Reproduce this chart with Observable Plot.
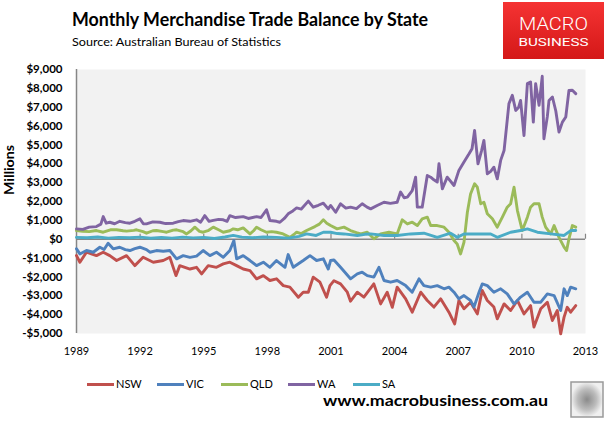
<!DOCTYPE html>
<html><head><meta charset="utf-8">
<script src="https://cdn.jsdelivr.net/npm/d3@7"></script>
<script src="https://cdn.jsdelivr.net/npm/@observablehq/plot@0.6"></script>
<style>
body{margin:0;background:#fff;}
#wrap{position:relative;width:608px;height:422px;overflow:hidden;font-family:Lato,"Open Sans",sans-serif;}
#chart{position:absolute;left:0;top:60px;}
#ov{position:absolute;left:0;top:0;pointer-events:none;}
</style></head><body><div id="wrap"><div id="chart"></div><svg id="ov" width="608" height="422"></svg></div>
<script>
const title = "Monthly Merchandise Trade Balance by State";
const subtitle = "Source:  Australian Bureau of Statistics";
const yLabel = "Millions";
const site = "www.macrobusiness.com.au";
const states = ["NSW", "VIC", "QLD", "WA", "SA"];
const stateColors = ["#C0504D", "#4F81BD", "#9BBB59", "#8064A2", "#4BACC6"];
const yearTicks = [1989, 1992, 1995, 1998, 2001, 2004, 2007, 2010, 2013];
const valueTicks = [-5000,-4000,-3000,-2000,-1000,0,1000,2000,3000,4000,5000,6000,7000,8000,9000];

const waYears = [1989.00,1989.30,1989.60,1989.94,1990.15,1990.26,1990.40,1990.57,1990.80,1991.04,1991.30,1991.52,1991.75,1991.99,1992.15,1992.30,1992.60,1992.93,1993.20,1993.56,1993.80,1994.03,1994.35,1994.66,1994.85,1995.05,1995.25,1995.45,1995.70,1995.92,1996.10,1996.23,1996.50,1996.86,1997.10,1997.49,1997.70,1997.96,1998.12,1998.43,1998.59,1998.80,1998.98,1999.20,1999.38,1999.60,1999.93,2000.16,2000.40,2000.64,2000.87,2000.98,2001.22,2001.45,2001.70,2001.92,2002.20,2002.47,2002.70,2002.87,2003.20,2003.50,2003.80,2004.12,2004.28,2004.45,2004.60,2004.83,2004.99,2005.07,2005.30,2005.54,2005.70,2005.85,2006.01,2006.09,2006.25,2006.48,2006.80,2007.03,2007.27,2007.51,2007.65,2007.77,2007.93,2008.10,2008.21,2008.37,2008.53,2008.68,2008.84,2009.00,2009.16,2009.39,2009.55,2009.71,2009.85,2009.94,2010.10,2010.26,2010.41,2010.54,2010.65,2010.81,2010.96,2011.04,2011.20,2011.28,2011.44,2011.60,2011.75,2011.91,2012.07,2012.22,2012.38,2012.54];
const waValues = [550,520,640,670,800,1200,850,900,820,950,880,850,950,1080,820,815,920,900,830,850,930,990,950,1030,900,1250,950,1000,1050,1030,950,1250,1150,1200,1100,1200,1150,1560,990,950,900,1100,1345,1500,1660,1600,2020,1700,1800,1910,1610,1790,1430,1880,1650,1700,1620,1880,1700,1610,1800,1960,1900,1960,2500,2200,2230,2580,3290,1700,1700,3380,3290,3150,3030,4000,2670,3290,2850,3650,4090,4530,4800,5770,4000,4700,5240,3470,3600,3820,3200,4180,4700,7190,7630,6830,7000,7360,5500,8250,8340,6210,8250,7100,8640,5330,6500,7360,7540,6800,5680,6210,6480,7890,7900,7720];

const qldYears = [1989.00,1989.30,1989.60,1989.94,1990.26,1990.60,1990.89,1991.20,1991.36,1991.70,1991.83,1992.14,1992.30,1992.60,1992.77,1993.09,1993.25,1993.56,1993.72,1994.03,1994.19,1994.40,1994.58,1994.80,1994.97,1995.20,1995.45,1995.70,1995.92,1996.23,1996.39,1996.60,1996.86,1997.18,1997.35,1997.49,1997.70,1997.96,1998.20,1998.43,1998.70,1999.06,1999.25,1999.38,1999.60,1999.85,2000.24,2000.45,2000.64,2000.80,2000.98,2001.29,2001.61,2001.92,2002.20,2002.40,2002.71,2003.02,2003.34,2003.73,2004.12,2004.36,2004.60,2004.83,2005.07,2005.30,2005.54,2005.70,2006.01,2006.33,2006.56,2006.80,2006.95,2007.11,2007.27,2007.43,2007.58,2007.77,2007.90,2008.06,2008.21,2008.37,2008.61,2008.84,2009.08,2009.31,2009.47,2009.63,2009.79,2010.02,2010.26,2010.41,2010.57,2010.81,2010.96,2011.12,2011.36,2011.52,2011.75,2011.99,2012.11,2012.22,2012.38,2012.54];
const qldValues = [460,420,400,460,370,500,500,450,430,470,500,400,320,450,460,400,370,480,500,400,280,450,640,420,370,450,640,500,370,450,550,500,600,280,450,640,500,370,400,370,300,100,250,370,300,460,670,800,1030,850,725,550,640,460,350,280,370,20,280,370,280,1030,810,900,725,1080,1170,725,725,640,370,-70,-250,-780,-160,1430,2400,2940,2760,1880,1960,1350,1080,640,1170,1700,1880,2760,1520,460,1170,1700,1880,1880,1170,640,280,725,100,-420,-600,20,725,640];

const saYears = [1989.00,1989.50,1990.00,1990.50,1991.00,1991.50,1992.00,1992.50,1993.00,1993.50,1994.00,1994.50,1995.00,1995.50,1996.00,1996.39,1996.80,1997.30,1997.80,1998.43,1999.00,1999.50,1999.85,2000.30,2000.64,2000.98,2001.30,2001.61,2002.24,2002.60,2002.87,2003.50,2004.12,2004.75,2005.38,2006.01,2006.64,2006.95,2007.27,2007.90,2008.53,2008.84,2009.47,2009.94,2010.26,2010.73,2011.36,2011.99,2012.30,2012.54];
const saValues = [100,80,120,60,100,80,110,50,90,60,110,70,100,40,120,200,110,80,120,100,60,150,280,200,370,370,300,280,200,260,280,200,200,280,320,100,320,100,280,280,280,100,370,460,550,370,280,200,460,460];

const vicYears = [1989.00,1989.16,1989.47,1989.79,1990.10,1990.30,1990.49,1990.73,1991.04,1991.30,1991.52,1991.75,1991.99,1992.30,1992.46,1992.77,1993.09,1993.40,1993.72,1994.03,1994.35,1994.66,1994.97,1995.29,1995.60,1995.92,1996.23,1996.42,1996.55,1996.86,1997.18,1997.49,1997.81,1998.12,1998.43,1998.83,1998.98,1999.22,1999.69,2000.01,2000.32,2000.64,2000.87,2000.98,2001.14,2001.45,2001.92,2002.24,2002.47,2002.71,2003.02,2003.26,2003.50,2003.81,2004.12,2004.52,2004.83,2005.15,2005.38,2005.70,2006.01,2006.33,2006.56,2006.80,2007.03,2007.27,2007.58,2007.74,2007.98,2008.13,2008.37,2008.68,2009.00,2009.31,2009.63,2009.94,2010.26,2010.57,2010.89,2011.20,2011.52,2011.83,2011.99,2012.14,2012.30,2012.54];
const vicValues = [-510,-780,-600,-690,-425,-550,-210,-510,-425,-550,-600,-500,-425,-550,-690,-600,-640,-600,-1040,-870,-960,-900,-600,-870,-690,-960,-600,-70,-1040,-870,-1130,-1400,-1220,-1490,-1130,-1490,-815,-1490,-1130,-870,-1130,-1040,-1580,-1130,-1100,-1490,-2100,-1840,-1750,-1930,-2010,-1490,-2190,-2280,-2190,-2460,-2810,-2100,-2460,-2540,-2460,-2630,-2540,-2810,-3160,-2990,-3250,-3600,-2810,-2370,-2460,-2810,-2630,-2900,-3430,-3070,-2810,-3340,-3340,-2900,-2990,-3780,-2630,-2990,-2540,-2630];

const nswYears = [1989.00,1989.16,1989.47,1989.94,1990.26,1990.57,1990.89,1991.36,1991.75,1992.14,1992.62,1993.09,1993.40,1993.69,1993.87,1994.35,1994.66,1994.90,1995.21,1995.60,1995.92,1996.23,1996.55,1996.86,1997.18,1997.49,1997.81,1998.12,1998.43,1998.75,1999.06,1999.46,1999.69,1999.93,2000.16,2000.48,2000.79,2000.95,2001.14,2001.45,2001.77,2001.92,2002.24,2002.55,2003.02,2003.34,2003.65,2003.89,2004.12,2004.52,2004.83,2005.23,2005.54,2005.85,2006.17,2006.56,2006.83,2007.03,2007.27,2007.58,2007.90,2008.13,2008.37,2008.68,2008.84,2009.16,2009.47,2009.79,2010.10,2010.41,2010.57,2010.89,2011.20,2011.44,2011.67,2011.83,2011.99,2012.14,2012.30,2012.54];
const nswValues = [-870,-1220,-690,-870,-690,-870,-1130,-870,-1400,-960,-1220,-1130,-960,-1930,-1400,-1580,-1490,-1840,-1400,-1490,-1310,-1220,-1400,-1580,-1670,-2100,-1930,-2190,-2100,-2460,-2540,-3080,-2810,-2810,-2010,-2280,-3080,-2460,-2200,-2370,-2810,-3290,-2810,-3070,-2370,-3430,-2810,-3610,-2540,-3160,-3870,-2810,-3250,-3600,-3160,-3870,-4490,-3250,-3690,-3340,-3960,-2720,-3250,-3600,-4220,-3430,-3780,-3250,-3960,-3520,-4660,-3690,-3340,-4310,-3780,-5020,-4130,-3610,-3870,-3520];

const seriesYears = {NSW: nswYears, VIC: vicYears, QLD: qldYears, WA: waYears, SA: saYears};
const seriesValues = {NSW: nswValues, VIC: vicValues, QLD: qldValues, WA: waValues, SA: saValues};
const rows = states.flatMap(s => seriesYears[s].map((y, i) => ({state: s, year: y, value: seriesValues[s][i]})));

const fmt = d => (d < 0 ? "-" : "") + "$" + d3.format(",")(Math.abs(d));

const chart = Plot.plot({
  width: 608, height: 300,
  marginLeft: 76, marginRight: 23, marginTop: 9, marginBottom: 27,
  style: {fontFamily: "Lato, 'Open Sans', sans-serif", background: "transparent", color: "#000", overflow: "visible"},
  x: {domain: [1989, 2013]},
  y: {domain: [-5000, 9000]},
  color: {domain: states, range: stateColors},
  marks: [
    Plot.frame({fill: "#f2f2f2", stroke: "none"}),
    Plot.axisY(valueTicks, {tickSize: 0, tickPadding: 14, fontWeight: "bold", fontSize: 11.5, label: null, tickFormat: fmt}),
    Plot.axisX(yearTicks, {tickSize: 0, tickPadding: 14, fontSize: 11, label: null, tickFormat: d => String(d)}),
    Plot.ruleY([0], {stroke: "#868686", strokeWidth: 1.5}),
    Plot.ruleX(yearTicks.slice(1), {y1: 0, y2: 0, insetTop: -5, stroke: "#868686", strokeWidth: 1.2}),
    Plot.ruleX([1989], {stroke: "#868686", strokeWidth: 1.5}),
    Plot.line(rows, {x: "year", y: "value", z: "state", stroke: "state", strokeWidth: 2.9, strokeLinejoin: "round"})
  ]
});
document.getElementById("chart").appendChild(chart);

const ov = d3.select("#ov");
const defs = ov.append("defs");
const g1 = defs.append("linearGradient").attr("id", "red").attr("x1", 0).attr("y1", 0).attr("x2", 0).attr("y2", 1);
g1.append("stop").attr("offset", 0).attr("stop-color", "#f53333");
g1.append("stop").attr("offset", 1).attr("stop-color", "#d41818");
const g2 = defs.append("radialGradient").attr("id", "wolf");
g2.append("stop").attr("offset", 0).attr("stop-color", "#8a8a8a");
g2.append("stop").attr("offset", 0.6).attr("stop-color", "#bdbdbd");
g2.append("stop").attr("offset", 1).attr("stop-color", "#f0f0f0");

ov.append("text").attr("x", 72).attr("y", 26).attr("font-size", 19).attr("font-weight", "bold")
  .attr("textLength", 356).attr("lengthAdjust", "spacingAndGlyphs").attr("fill", "#000").text(title);
ov.append("text").attr("x", 72).attr("y", 46).attr("font-size", 12)
  .attr("textLength", 209).attr("lengthAdjust", "spacingAndGlyphs").attr("fill", "#000").text(subtitle);

ov.append("rect").attr("x", 503).attr("y", 2).attr("width", 101).attr("height", 57).attr("fill", "url(#red)");
ov.append("text").attr("x", 553.5).attr("y", 30).attr("text-anchor", "middle").attr("font-size", 19)
  .attr("font-family", "Roboto, 'Liberation Sans', sans-serif").attr("font-weight", 300)
  .attr("textLength", 69).attr("lengthAdjust", "spacingAndGlyphs").attr("fill", "#fff").text("MACRO");
ov.append("text").attr("x", 553.5).attr("y", 45.5).attr("text-anchor", "middle").attr("font-size", 10.5)
  .attr("font-family", "Roboto, 'Liberation Sans', sans-serif")
  .attr("textLength", 70).attr("lengthAdjust", "spacingAndGlyphs").attr("fill", "#fff").text("BUSINESS");

ov.append("text").attr("transform", "translate(14,170) rotate(-90)").attr("text-anchor", "middle")
  .attr("font-size", 14).attr("font-weight", "bold").attr("textLength", 50).attr("lengthAdjust", "spacingAndGlyphs")
  .attr("fill", "#000").text(yLabel);

const legendX = [87, 157, 221, 288, 353];
states.forEach((s, i) => {
  const x0 = legendX[i];
  ov.append("line").attr("x1", x0).attr("x2", x0 + 27).attr("y1", 384.5).attr("y2", 384.5)
    .attr("stroke", stateColors[i]).attr("stroke-width", 3);
  ov.append("text").attr("x", x0 + 29).attr("y", 388.3).attr("font-size", 11).attr("fill", "#000").text(s);
});

ov.append("text").attr("x", 323).attr("y", 406).attr("font-size", 15.5).attr("font-weight", "bold")
  .attr("textLength", 225).attr("lengthAdjust", "spacingAndGlyphs").attr("fill", "#000").text(site);

ov.append("rect").attr("x", 571).attr("y", 382).attr("width", 32).attr("height", 35)
  .attr("fill", "url(#wolf)").attr("stroke", "#9a9a9a").attr("stroke-width", 1.5);
</script></body></html>
